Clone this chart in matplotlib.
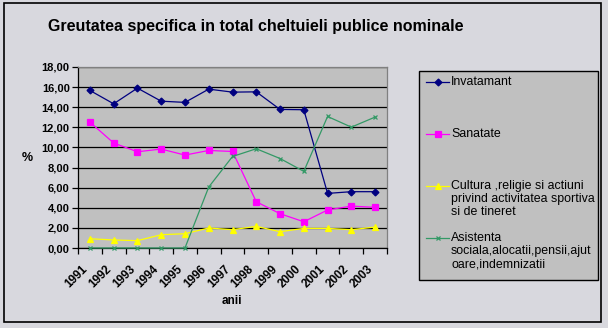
import matplotlib
matplotlib.use("Agg")
import matplotlib.pyplot as plt
from matplotlib.lines import Line2D
from matplotlib.patches import Rectangle

plt.rcParams['font.family'] = ['Liberation Sans', 'DejaVu Sans']

years = ["1991", "1992", "1993", "1994", "1995", "1996", "1997",
         "1998", "1999", "2000", "2001", "2002", "2003"]

invatamant = [15.67, 14.34, 15.90, 14.60, 14.48, 15.80, 15.50,
              15.53, 13.78, 13.75, 5.43, 5.60, 5.60]
sanatate = [12.52, 10.44, 9.57, 9.84, 9.24, 9.70, 9.60,
            4.60, 3.41, 2.61, 3.78, 4.17, 4.04]
cultura = [0.92, 0.80, 0.73, 1.32, 1.42, 1.99, 1.82,
           2.15, 1.62, 1.95, 1.95, 1.82, 2.08]
asistenta = [0.00, 0.00, 0.00, 0.00, 0.00, 6.06, 9.10,
             9.87, 8.90, 7.62, 13.08, 12.02, 13.02]

labels = ["Invatamant",
          "Sanatate",
          "Cultura ,religie si actiuni\nprivind activitatea sportiva\nsi de tineret",
          "Asistenta\nsociala,alocatii,pensii,ajut\noare,indemnizatii"]

W, H = 608, 328
fig = plt.figure(figsize=(W / 100, H / 100), dpi=100)
fig.patch.set_facecolor('#d8d8de')


def fx(px):
    return px / W


def fy(py):
    return 1 - py / H


# outer chart border
fig.patches.append(Rectangle((fx(4), fy(322)), fx(597), 319 / H, transform=fig.transFigure,
                             fill=False, edgecolor='black', linewidth=1.2))

ax = fig.add_axes([fx(78), fy(248), fx(387 - 78), (248 - 67) / H])
ax.set_facecolor('#c0c0c0')

x = list(range(len(years)))
styles = [
    (invatamant, '#000080', 'D', 3.5),
    (sanatate, '#ff00ff', 's', 5),
    (cultura, '#ffff00', '^', 5),
    (asistenta, '#339966', 'x', 3),
]
for vals, col, mk, ms in styles:
    ax.plot(x, vals, color=col, marker=mk, markersize=ms, linewidth=0.9,
            markeredgewidth=0.9, clip_on=False, zorder=3)

ax.set_xlim(-0.5, len(years) - 0.5)
ax.set_ylim(0, 18)
ax.set_yticks(range(0, 19, 2))
ax.set_yticklabels(["%d,00" % v for v in range(0, 19, 2)], fontsize=8, fontweight='bold')
ax.yaxis.grid(True, color='black', linewidth=0.9)
ax.set_axisbelow(True)

ax.set_xticks(x)
ax.set_xticklabels(years, rotation=45, ha='right', va='top', fontsize=8.5, fontweight='bold')
ax.tick_params(axis='x', which='major', length=0, pad=11)
ax.set_xticks([i - 0.5 for i in range(len(years) + 1)], minor=True)
ax.tick_params(axis='x', which='minor', length=4, direction='out', width=0.9)
ax.tick_params(axis='y', length=4, direction='out', width=0.9, pad=2)

for s in ['left', 'bottom']:
    ax.spines[s].set_color('black')
    ax.spines[s].set_linewidth(0.9)
for s in ['top', 'right']:
    ax.spines[s].set_color('#808080')
    ax.spines[s].set_linewidth(0.9)

fig.text(fx(256), fy(27), "Greutatea specifica in total cheltuieli publice nominale",
         ha='center', va='center', fontsize=11.5, fontweight='bold')
fig.text(fx(27), fy(158), "%", ha='center', va='center', fontsize=9, fontweight='bold')
fig.text(fx(232), fy(301), "anii", ha='center', va='center', fontsize=8.5, fontweight='bold')

# legend box
fig.patches.append(Rectangle((fx(419), fy(280)), fx(598 - 419), (280 - 71) / H,
                             transform=fig.transFigure, facecolor='#c0c0c0',
                             edgecolor='black', linewidth=1))
entry_y = [82, 134, 186, 238]
for (vals, col, mk, ms), lab, ey in zip(styles, labels, entry_y):
    fig.lines.append(Line2D([fx(426), fx(449)], [fy(ey), fy(ey)], transform=fig.transFigure,
                            color=col, linewidth=0.9))
    fig.lines.append(Line2D([fx(437.5)], [fy(ey)], transform=fig.transFigure, color=col,
                            marker=mk, markersize=ms, markeredgewidth=0.9, linestyle='none'))
    fig.text(fx(451), fy(ey - 6), lab, ha='left', va='top', fontsize=8.9,
             linespacing=1.12)

fig.savefig("out.png", dpi=100, facecolor=fig.get_facecolor())
